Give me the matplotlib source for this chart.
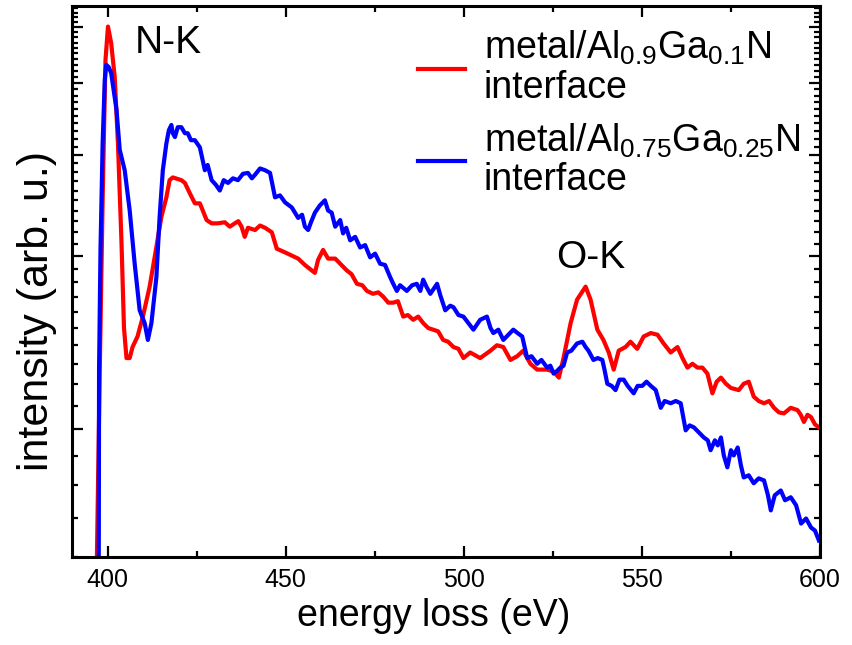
import numpy as np
import matplotlib
matplotlib.use('Agg')
import matplotlib.pyplot as plt
from matplotlib.ticker import FixedLocator, NullFormatter

plt.rcParams['font.family'] = ['Liberation Sans', 'DejaVu Sans']

# red: metal/Al0.9Ga0.1N interface (energy in eV, intensity in arb. u.)
red_e = [396.8, 397.8, 398.6, 399.4, 400.1, 401.0, 402.0, 402.9, 403.9, 404.6,
         405.3, 406.2, 407.0, 408.4, 409.9, 411.8, 413.2, 415.1, 416.5, 417.4,
         418.3, 420.7, 421.7, 423.1, 424.5, 425.9, 427.8, 429.2, 430.9, 432.9,
         434.3, 435.7, 436.7, 437.6, 438.5, 439.4, 441.4, 442.8, 444.2, 446.1,
         447.5, 449.8, 453.5, 455.4, 458.2, 459.1, 460.5, 461.9, 463.9, 465.3,
         467.1, 468.5, 470.0, 471.5, 472.8, 474.5, 476.0, 477.4, 478.8, 480.2,
         481.5, 483.0, 484.3, 485.8, 487.2, 488.6, 490.0, 491.4, 492.8, 494.2,
         495.6, 497.1, 498.5, 499.9, 501.8, 504.6, 507.5, 509.3, 511.1, 513.1,
         515.0, 516.7, 518.7, 520.6, 523.4, 525.2, 526.7, 528.0, 530.0, 531.8,
         534.2, 535.6, 537.5, 539.2, 540.7, 542.1, 543.5, 545.4, 546.8, 548.7,
         550.5, 552.5, 554.4, 556.1, 558.1, 560.0, 561.4, 562.8, 564.2, 565.6,
         567.0, 568.4, 569.8, 571.0, 572.2, 573.6, 575.0, 577.2, 578.6, 580.0,
         581.4, 582.8, 584.3, 585.7, 587.1, 588.5, 589.9, 591.8, 593.7, 594.6,
         595.5, 596.5, 597.5, 598.6, 599.7]
red_i = [0.50, 1.27, 2.50, 4.38, 5.01, 4.69, 4.09, 3.14, 2.11, 1.50,
         1.33, 1.33, 1.39, 1.45, 1.57, 1.77, 1.99, 2.34, 2.53, 2.71,
         2.74, 2.71, 2.68, 2.57, 2.47, 2.47, 2.31, 2.28, 2.28, 2.29,
         2.25, 2.28, 2.30, 2.25, 2.16, 2.24, 2.22, 2.26, 2.24, 2.20,
         2.06, 2.03, 1.98, 1.93, 1.87, 1.97, 2.05, 1.98, 1.98, 1.94,
         1.89, 1.86, 1.79, 1.78, 1.74, 1.72, 1.73, 1.70, 1.66, 1.66,
         1.67, 1.57, 1.58, 1.55, 1.57, 1.53, 1.50, 1.49, 1.48, 1.43,
         1.42, 1.39, 1.38, 1.33, 1.36, 1.33, 1.37, 1.40, 1.39, 1.32,
         1.34, 1.37, 1.30, 1.27, 1.27, 1.26, 1.23, 1.33, 1.53, 1.68,
         1.77, 1.68, 1.49, 1.43, 1.36, 1.27, 1.37, 1.39, 1.42, 1.38,
         1.45, 1.47, 1.46, 1.41, 1.36, 1.39, 1.33, 1.28, 1.30, 1.28,
         1.28, 1.25, 1.155, 1.21, 1.23, 1.20, 1.18, 1.17, 1.20, 1.21,
         1.14, 1.12, 1.11, 1.12, 1.09, 1.07, 1.066, 1.09, 1.08, 1.06,
         1.03, 1.06, 1.05, 1.02, 1.008]

# blue: metal/Al0.75Ga0.25N interface
blue_e = [397.5, 397.6, 398.0, 398.6, 399.2, 399.6, 400.3, 401.0, 402.5, 403.4,
          404.8, 406.2, 407.6, 409.0, 410.4, 411.3, 412.3, 413.7, 414.6, 415.5,
          416.5, 417.2, 417.9, 418.3, 418.9, 419.7, 420.7, 421.7, 422.5, 423.4,
          424.5, 425.9, 427.3, 428.1, 429.2, 430.4, 431.5, 432.6, 433.8, 435.2,
          436.6, 438.0, 439.4, 440.5, 441.4, 442.8, 444.2, 445.6, 447.0, 448.4,
          449.8, 451.7, 453.5, 454.6, 455.4, 456.3, 457.1, 458.2, 459.6, 461.0,
          461.9, 462.9, 463.9, 465.3, 466.1, 467.0, 468.1, 469.5, 470.9, 472.3,
          473.7, 475.1, 476.5, 477.9, 479.3, 480.2, 481.2, 482.1, 484.0, 485.5,
          486.8, 487.8, 488.6, 489.5, 490.6, 492.5, 493.4, 494.8, 496.2, 497.1,
          498.5, 499.9, 501.3, 502.7, 504.6, 506.5, 507.5, 508.3, 509.7, 511.1,
          512.5, 513.9, 515.1, 516.4, 517.8, 519.0, 520.6, 521.8, 523.4, 524.3,
          525.2, 526.0, 527.1, 528.0, 529.0, 530.2, 531.8, 533.3, 534.2, 535.0,
          536.4, 537.6, 538.9, 539.5, 540.3, 541.5, 542.6, 543.7, 544.9, 546.0,
          547.7, 548.8, 550.1, 551.3, 552.5, 553.9, 555.3, 556.4, 558.1, 559.5,
          560.9, 562.3, 563.4, 564.6, 566.0, 567.4, 568.5, 569.3, 570.5, 571.3,
          572.2, 573.0, 574.0, 575.0, 575.8, 576.9, 577.8, 578.6, 580.0, 581.4,
          582.8, 584.3, 585.4, 586.2, 587.3, 589.0, 590.2, 591.8, 593.3, 594.7,
          596.1, 597.5, 598.6, 599.7]
blue_i = [0.50, 1.27, 2.05, 3.14, 4.05, 4.30, 4.26, 4.16, 3.59, 3.06,
          2.82, 2.40, 1.94, 1.61, 1.53, 1.43, 1.53, 1.84, 2.34, 2.82,
          3.14, 3.31, 3.38, 3.27, 3.22, 3.35, 3.35, 3.27, 3.27, 3.18,
          3.18, 3.09, 2.82, 2.88, 2.71, 2.66, 2.60, 2.71, 2.68, 2.73,
          2.71, 2.78, 2.79, 2.73, 2.77, 2.84, 2.82, 2.79, 2.53, 2.55,
          2.48, 2.43, 2.33, 2.36, 2.25, 2.22, 2.29, 2.38, 2.45, 2.50,
          2.40, 2.38, 2.25, 2.31, 2.19, 2.24, 2.13, 2.16, 2.07, 2.09,
          1.99, 2.02, 1.94, 1.93, 1.84, 1.79, 1.74, 1.78, 1.74, 1.78,
          1.79, 1.74, 1.82, 1.77, 1.72, 1.79, 1.71, 1.61, 1.64, 1.63,
          1.58, 1.57, 1.53, 1.49, 1.55, 1.57, 1.50, 1.47, 1.49, 1.43,
          1.46, 1.49, 1.47, 1.45, 1.33, 1.34, 1.30, 1.32, 1.28, 1.29,
          1.25, 1.26, 1.28, 1.29, 1.36, 1.37, 1.41, 1.42, 1.39, 1.37,
          1.32, 1.33, 1.32, 1.27, 1.20, 1.19, 1.17, 1.22, 1.22, 1.19,
          1.155, 1.19, 1.19, 1.21, 1.19, 1.17, 1.09, 1.12, 1.11, 1.12,
          1.11, 0.996, 1.016, 1.008, 0.988, 0.968, 0.957, 0.92, 0.957, 0.938,
          0.968, 0.901, 0.859, 0.92, 0.901, 0.930, 0.866, 0.825, 0.832, 0.806,
          0.822, 0.815, 0.768, 0.723, 0.768, 0.783, 0.753, 0.762, 0.738, 0.686,
          0.700, 0.675, 0.667, 0.641]

red_label = 'metal/Al$_{\\mathregular{0.9}}$Ga$_{\\mathregular{0.1}}$N\ninterface'
blue_label = 'metal/Al$_{\\mathregular{0.75}}$Ga$_{\\mathregular{0.25}}$N\ninterface'

fig = plt.figure(figsize=(8.52, 6.45), dpi=100)
ax = fig.add_axes([0.0845, 0.1364, 0.8779, 0.8543])

ax.plot(red_e, red_i, color='#ff0000', lw=3.0, label=red_label)
ax.plot(blue_e, blue_i, color='#0000ff', lw=3.0, label=blue_label)

ax.set_yscale('log')
ax.set_xlim(390, 600)
ax.set_ylim(0.6, 5.44)

# y axis: log scale without numbers
ax.yaxis.set_major_locator(FixedLocator([1, 2, 3, 4, 5]))
minors = [v / 10 for v in range(6, 55) if v % 10 != 0]
ax.yaxis.set_minor_locator(FixedLocator(minors))
ax.yaxis.set_major_formatter(NullFormatter())
ax.yaxis.set_minor_formatter(NullFormatter())

ax.set_xticks([400, 450, 500, 550, 600])
ax.set_xticks([425, 475, 525, 575], minor=True)

ax.tick_params(which='both', direction='in', top=True, right=True, width=1.6)
ax.tick_params(which='major', length=8, labelsize=18, pad=8)
ax.tick_params(which='minor', length=4.5)
for sp in ax.spines.values():
    sp.set_linewidth(2.2)

ax.set_xlabel('energy loss (eV)', fontsize=27)
ax.xaxis.set_label_coords(0.484, -0.075)
ax.set_ylabel('intensity (arb. u.)', fontsize=31)
ax.yaxis.set_label_coords(-0.02, 0.446)

ax.text(407.6, 4.5, 'N-K', fontsize=28, va='baseline')
ax.text(526.0, 1.905, 'O-K', fontsize=28, va='baseline')

leg = ax.legend(loc='upper left', bbox_to_anchor=(0.463, 0.958), frameon=False,
                fontsize=27, handlelength=1.25, handletextpad=0.5,
                labelspacing=0.4, borderpad=0, borderaxespad=0)
for t in leg.get_texts():
    t.set_linespacing(1.1)

fig.savefig('out.png', dpi=100)
